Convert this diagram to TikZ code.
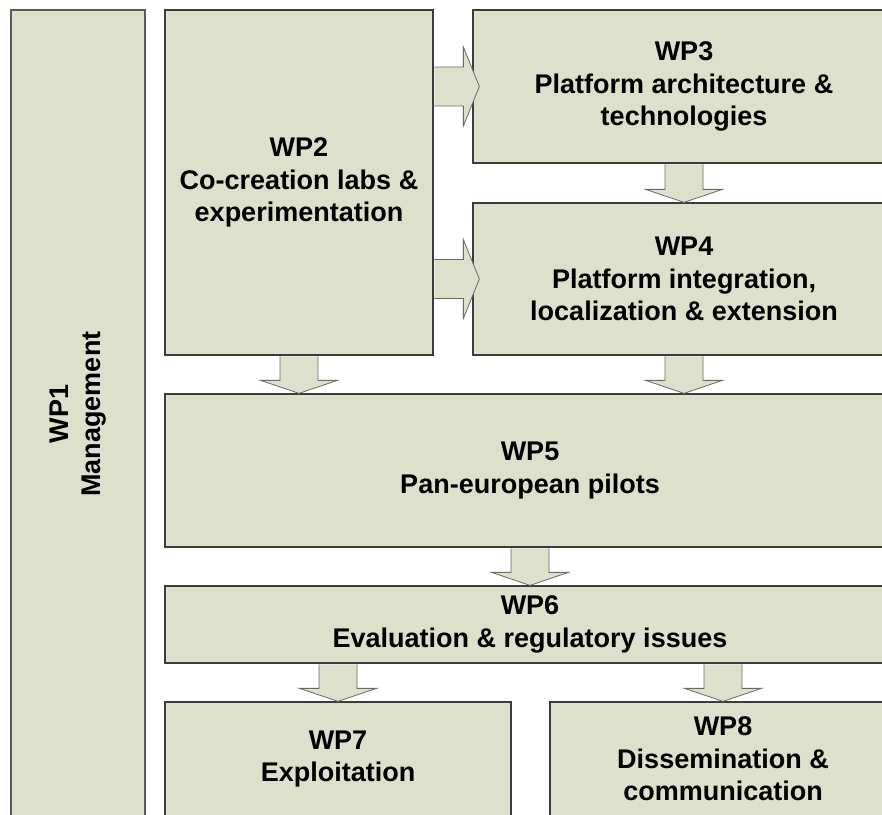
\documentclass[tikz,border=0pt]{standalone}
\usepackage{fontspec}
\setmainfont{Liberation Sans}
\usetikzlibrary{calc}
\definecolor{wpfill}{RGB}{221,224,203}
\definecolor{wpline}{RGB}{60,60,60}
\definecolor{arrline}{RGB}{105,105,105}
\tikzset{
	wpbox/.style={draw=wpline, line width=1.3pt, fill=wpfill, inner sep=0pt, align=center,
		font=\bfseries\fontsize{27}{32.5}\selectfont},
	blockarrow/.style={draw=arrline, line width=0.8pt, fill=wpfill, line join=miter}
}
\newcommand\arrowdown[2]{\path[blockarrow] let \p1=(#1), \p2=(#2) in
	(\x1-19pt,\y1-0.7pt) -- (\x1-19pt,\y2+13pt) -- (\x1-38.5pt,\y2+13pt) -- (\x1,\y2)
	-- (\x1+38.5pt,\y2+13pt) -- (\x1+19pt,\y2+13pt) -- (\x1+19pt,\y1-0.7pt);}
\newcommand\arrowright[2]{\path[blockarrow] let \p1=(#1), \p2=(#2) in
	(\x1+0.7pt,\y1+19.5pt) -- (\x2-16pt,\y1+19.5pt) -- (\x2-16pt,\y1+39.5pt) -- (\x2,\y1)
	-- (\x2-16pt,\y1-39.5pt) -- (\x2-16pt,\y1-19.5pt) -- (\x1+0.7pt,\y1-19.5pt);}

\begin{document}
\begin{tikzpicture}[x=1pt, y=-1pt]
	%%%%% START %%%%%
	
	\useasboundingbox (0,0) rectangle (882,814);
	\clip (0,0) rectangle (882,814);
	\fill[white] (0,0) rectangle (882,814);
	
	\node[wpbox, draw=wpline!85, line width=1.8pt, minimum width=134pt, minimum height=808pt] (wp1) at (78,414) {};
	\node[rotate=90, align=center, font=\bfseries\fontsize{27}{32.5}\selectfont] at (wp1) {WP1\\Management};
	
	\node[wpbox, minimum width=268pt, minimum height=345pt] (wp2) at (299,182.5) {WP2\\Co-creation labs \&\\experimentation};
	\node[wpbox, minimum width=422pt, minimum height=153pt] (wp3) at (684,86.5) {WP3\\Platform architecture \&\\technologies};
	\node[wpbox, minimum width=422pt, minimum height=152pt] (wp4) at (684,279) {WP4\\Platform integration,\\localization \& extension};
	\node[wpbox, minimum width=730pt, minimum height=153pt] (wp5) at (530,470.5) {WP5\\Pan-european pilots};
	\node[wpbox, minimum width=730pt, minimum height=77pt] (wp6) at (530,624.5) {WP6\\Evaluation \& regulatory issues};
	\node[wpbox, minimum width=346pt, minimum height=114pt] (wp7) at (338,759) {WP7\\Exploitation};
	\node[wpbox, minimum width=346pt, minimum height=114pt] (wp8) at (723,759) {WP8\\Dissemination \&\\communication};
	
	\arrowright{wp2.east |- wp3.west}{$(wp3.west)+(7,0)$}
	\arrowright{wp2.east |- wp4.west}{$(wp4.west)+(7,0)$}
	\arrowdown{wp3.south}{wp4.north}
	\arrowdown{wp2.south}{wp2.south |- wp5.north}
	\arrowdown{wp4.south}{wp4.south |- wp5.north}
	\arrowdown{wp5.south}{wp6.north}
	\arrowdown{wp6.south -| wp7.north}{wp7.north}
	\arrowdown{wp6.south -| wp8.north}{wp8.north}
	
	%%%%% END %%%%%
\end{tikzpicture}
\end{document}
